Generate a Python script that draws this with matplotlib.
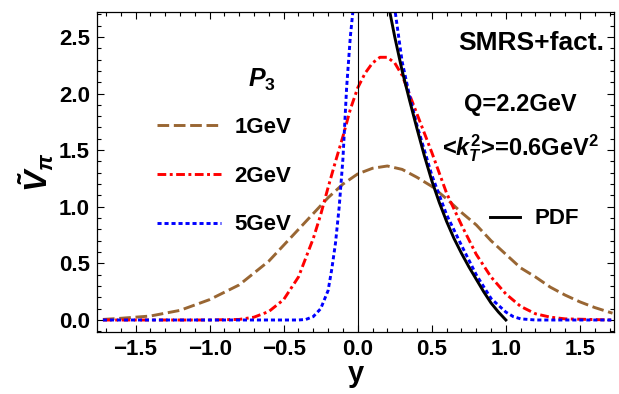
import matplotlib
matplotlib.use("Agg")
import matplotlib.pyplot as plt
from matplotlib.ticker import MultipleLocator

plt.rcParams['font.family'] = ['Liberation Sans', 'DejaVu Sans']
plt.rcParams['font.weight'] = 'bold'
plt.rcParams['mathtext.fontset'] = 'custom'
plt.rcParams['mathtext.rm'] = 'Liberation Sans:bold'
plt.rcParams['mathtext.it'] = 'Liberation Sans:bold:italic'
plt.rcParams['mathtext.bf'] = 'Liberation Sans:bold'

# ---- data ----
x_1gev = [-1.72, -1.6, -1.4, -1.2, -1.0, -0.8, -0.6, -0.4, -0.2, -0.1, 0.0, 0.1, 0.2,
          0.3, 0.4, 0.5, 0.6, 0.7, 0.8, 0.9, 1.0, 1.1, 1.2, 1.3, 1.4, 1.5, 1.6, 1.72]
v_1gev = [0.005, 0.015, 0.035, 0.085, 0.18, 0.31, 0.52, 0.80, 1.08, 1.20, 1.29, 1.34, 1.36,
          1.33, 1.26, 1.18, 1.07, 0.95, 0.84, 0.70, 0.58, 0.46, 0.38, 0.29, 0.22, 0.16, 0.11, 0.06]

x_2gev = [-1.72, -1.0, -0.8, -0.7, -0.6, -0.5, -0.4, -0.3, -0.25, -0.2, -0.15, -0.1, -0.05,
          0.0, 0.05, 0.1, 0.15, 0.2, 0.25, 0.3, 0.35, 0.4, 0.5, 0.6, 0.7, 0.8, 0.9, 1.0,
          1.1, 1.2, 1.3, 1.4, 1.72]
v_2gev = [0.0, 0.0, 0.005, 0.025, 0.075, 0.18, 0.38, 0.72, 0.93, 1.17, 1.40, 1.62, 1.86,
          2.05, 2.18, 2.27, 2.32, 2.32, 2.27, 2.16, 1.99, 1.82, 1.48, 1.12, 0.84, 0.58, 0.38, 0.23,
          0.12, 0.055, 0.025, 0.01, 0.0]

x_5gev = [-1.72, -0.4, -0.35, -0.3, -0.25, -0.2, -0.175, -0.15, -0.125, -0.1, -0.075, -0.05,
          -0.03, 0.0, 0.1, 0.2, 0.25, 0.3, 0.35, 0.4, 0.45, 0.5, 0.6, 0.7, 0.8, 0.9, 1.0,
          1.05, 1.1, 1.2, 1.72]
v_5gev = [0.0, 0.0, 0.005, 0.03, 0.10, 0.26, 0.45, 0.68, 1.00, 1.42, 2.05, 2.50,
          2.76, 3.2, 3.8, 3.2, 2.75, 2.28, 1.98, 1.72, 1.50, 1.28, 0.93, 0.66, 0.40, 0.19, 0.07,
          0.03, 0.01, 0.0, 0.0]

x_pdf = [0.15, 0.2, 0.25, 0.3, 0.35, 0.4, 0.45, 0.5, 0.55, 0.6, 0.65, 0.7, 0.75, 0.8,
         0.85, 0.9, 0.95, 1.0]
v_pdf = [3.25, 2.83, 2.50, 2.20, 1.94, 1.69, 1.45, 1.23, 1.04, 0.87, 0.72, 0.59, 0.47, 0.36,
         0.25, 0.15, 0.07, 0.0]

labels = ['1GeV', '2GeV', '5GeV']
pdf_label = 'PDF'

brown = '#996633'
red = '#ff0000'
blue = '#0000ff'

fig = plt.figure(figsize=(6.19, 3.94), dpi=100)
ax = fig.add_axes([97/619, 62/394, (614-97)/619, (332-12)/394])

lw = 2.1
l1, = ax.plot(x_1gev, v_1gev, color=brown, lw=lw, dashes=(4.0, 1.6), label=labels[0])
l2, = ax.plot(x_2gev, v_2gev, color=red, lw=lw, dashes=(3.0, 1.2, 1.0, 1.2), label=labels[1])
l3, = ax.plot(x_5gev, v_5gev, color=blue, lw=lw, dashes=(1.4, 1.0), label=labels[2])
l4, = ax.plot(x_pdf, v_pdf, color='black', lw=lw, label=pdf_label)

ax.axvline(0.0, color='black', lw=0.8)

ax.set_xlim(-1.76, 1.73)
ax.set_ylim(-0.106, 2.72)

ax.xaxis.set_major_locator(MultipleLocator(0.5))
ax.xaxis.set_minor_locator(MultipleLocator(0.1))
ax.yaxis.set_major_locator(MultipleLocator(0.5))
ax.yaxis.set_minor_locator(MultipleLocator(0.1))
ax.tick_params(which='both', direction='in', top=True, right=True, width=0.8)
ax.tick_params(which='major', length=5, labelsize=16, pad=5)
ax.tick_params(which='minor', length=3)
for lab in ax.get_xticklabels() + ax.get_yticklabels():
    lab.set_fontweight('bold')
for s in ax.spines.values():
    s.set_linewidth(0.9)

ax.set_xlabel('y', fontsize=21, fontweight='bold', labelpad=0)
ax.set_ylabel(r'$\tilde{V}_{\pi}$', fontsize=23, labelpad=2)

leg1 = ax.legend(handles=[l1, l2, l3], loc='upper left',
                 bbox_to_anchor=((148 - 97) / 517, (332 - 108) / 320),
                 frameon=False, fontsize=16, handlelength=2.9, handletextpad=0.6,
                 labelspacing=1.25, borderaxespad=0)
ax.add_artist(leg1)
leg2 = ax.legend(handles=[l4], loc='center left',
                 bbox_to_anchor=((481 - 97) / 517, (332 - 219) / 320),
                 frameon=False, fontsize=16, handlelength=1.37, handletextpad=0.65,
                 borderaxespad=0)

ax.text((262 - 97) / 517, (332 - 80) / 320, r'$P_3$', transform=ax.transAxes,
        fontsize=18, ha='center', va='center')
ax.text((531 - 97) / 517, (332 - 43) / 320, 'SMRS+fact.', transform=ax.transAxes,
        fontsize=19, fontweight='bold', ha='center', va='center')
ax.text((520 - 97) / 517, (332 - 105) / 320, 'Q=2.2GeV', transform=ax.transAxes,
        fontsize=17, fontweight='bold', ha='center', va='center')
ax.text((521 - 97) / 517, (332 - 148) / 320, r'<$k_T^2$>=0.6GeV$^2$', transform=ax.transAxes,
        fontsize=17, fontweight='bold', ha='center', va='center')

fig.savefig('out.png', dpi=100)
